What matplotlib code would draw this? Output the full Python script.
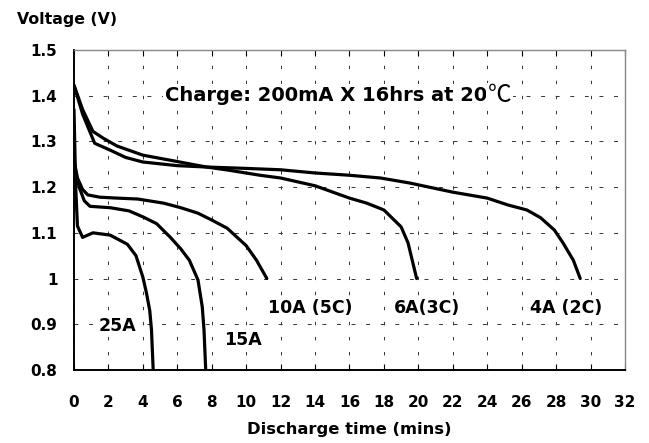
import matplotlib
matplotlib.use('Agg')
import matplotlib.pyplot as plt

# discharge curves (time in mins, voltage in V)
t_4a = [0, 0.5, 1.2, 2.1, 3, 4, 6, 7.7, 10, 12, 14, 16, 17.8, 19.5, 22, 24, 25.2, 26.3, 27.1, 27.9, 28.4, 29.0, 29.4]
v_4a = [1.423, 1.36, 1.296, 1.281, 1.265, 1.255, 1.247, 1.244, 1.241, 1.238, 1.231, 1.226, 1.22, 1.209, 1.189, 1.176, 1.161, 1.15, 1.133, 1.106, 1.078, 1.04, 1.0]

t_6a = [0, 0.5, 1.1, 1.7, 2.5, 4, 6, 7.7, 9, 10.8, 12, 14, 16, 17, 18, 19, 19.4, 19.9]
v_6a = [1.423, 1.37, 1.322, 1.307, 1.29, 1.27, 1.256, 1.244, 1.237, 1.226, 1.22, 1.203, 1.176, 1.165, 1.15, 1.113, 1.078, 1.0]

t_10a = [0, 0.2, 0.5, 0.8, 1.5, 2.5, 3.7, 5.2, 6.2, 7.2, 8.0, 8.9, 10.0, 10.6, 11.2]
v_10a = [1.26, 1.22, 1.195, 1.183, 1.178, 1.176, 1.174, 1.165, 1.155, 1.143, 1.128, 1.11, 1.072, 1.04, 1.0]

t_15a = [0, 0.3, 0.6, 0.93, 2.1, 3.2, 4.0, 4.8, 5.6, 6.2, 6.7, 7.2, 7.45, 7.55, 7.65]
v_15a = [1.25, 1.2, 1.17, 1.158, 1.155, 1.148, 1.135, 1.12, 1.09, 1.065, 1.04, 0.997, 0.938, 0.888, 0.8]

t_25a = [0, 0.1, 0.2, 0.5, 1.1, 2.1, 3.1, 3.6, 4.0, 4.2, 4.4, 4.5, 4.6]
v_25a = [1.37, 1.2, 1.115, 1.09, 1.1, 1.095, 1.075, 1.05, 1.003, 0.97, 0.93, 0.888, 0.8]

x_ticks = list(range(0, 33, 2))
y_ticks = [0.8, 0.9, 1.0, 1.1, 1.2, 1.3, 1.4, 1.5]
y_tick_labels = ['0.8', '0.9', '1', '1.1', '1.2', '1.3', '1.4', '1.5']

# label text and where it sits (time, voltage)
curve_labels = [('25A', 2.5, 0.897), ('15A', 9.8, 0.866), ('10A (5C)', 13.7, 0.935),
                ('6A(3C)', 20.5, 0.935), ('4A (2C)', 28.6, 0.935)]

plt.rcParams['font.family'] = ['DejaVu Sans']

fig = plt.figure(figsize=(6.49, 4.43), dpi=100)
ax = fig.add_axes([0.114, 0.165, 0.849, 0.722])

for t, v in [(t_4a, v_4a), (t_6a, v_6a), (t_10a, v_10a), (t_15a, v_15a), (t_25a, v_25a)]:
    ax.plot(t, v, color='black', lw=2.3, solid_joinstyle='round', solid_capstyle='round', zorder=3)

ax.set_xlim(0, 32)
ax.set_ylim(0.8, 1.5)
ax.set_xticks(x_ticks)
ax.set_yticks(y_ticks)
ax.set_yticklabels(y_tick_labels)

for lab in ax.get_xticklabels() + ax.get_yticklabels():
    lab.set_fontweight('bold')
    lab.set_fontsize(11)

ax.tick_params(axis='x', direction='in', length=4.5, width=0.8, pad=18, top=True)
ax.tick_params(axis='y', length=0, pad=12)

ax.grid(axis='y', color='#333333', lw=0.7, linestyle=(0, (4, 11)))
ax.grid(axis='x', color='#333333', lw=0.7, linestyle=(0, (3.5, 12)))
ax.set_axisbelow(True)

ax.spines['left'].set_linewidth(1.4)
ax.spines['bottom'].set_linewidth(1.4)
ax.spines['top'].set_color('#888888')
ax.spines['right'].set_color('#888888')
ax.spines['top'].set_linewidth(1.0)
ax.spines['right'].set_linewidth(1.0)

box = dict(facecolor='white', edgecolor='none', pad=2)
for txt, x, y in curve_labels:
    ax.text(x, y, txt, ha='center', va='center', fontsize=12.5, fontweight='bold', bbox=box, zorder=2)

charge = ax.text(5.3, 1.4, 'Charge: 200mA X 16hrs at 20', ha='left', va='center',
                 fontsize=14, fontweight='bold', bbox=box, zorder=2)
ax.annotate('\u2103', xy=(1, 0.5), xycoords=charge, xytext=(0, 0), textcoords='offset points',
            ha='left', va='center', fontsize=17, family=['Noto Sans CJK SC', 'DejaVu Sans'],
            bbox=dict(facecolor='white', edgecolor='none', pad=1), zorder=2)

ax.set_xlabel('Discharge time (mins)', fontsize=11.8, fontweight='bold', labelpad=9)
fig.text(0.026, 0.955, 'Voltage (V)', fontsize=11.3, fontweight='bold', va='center', ha='left')

plt.savefig('out.png', dpi=100)
